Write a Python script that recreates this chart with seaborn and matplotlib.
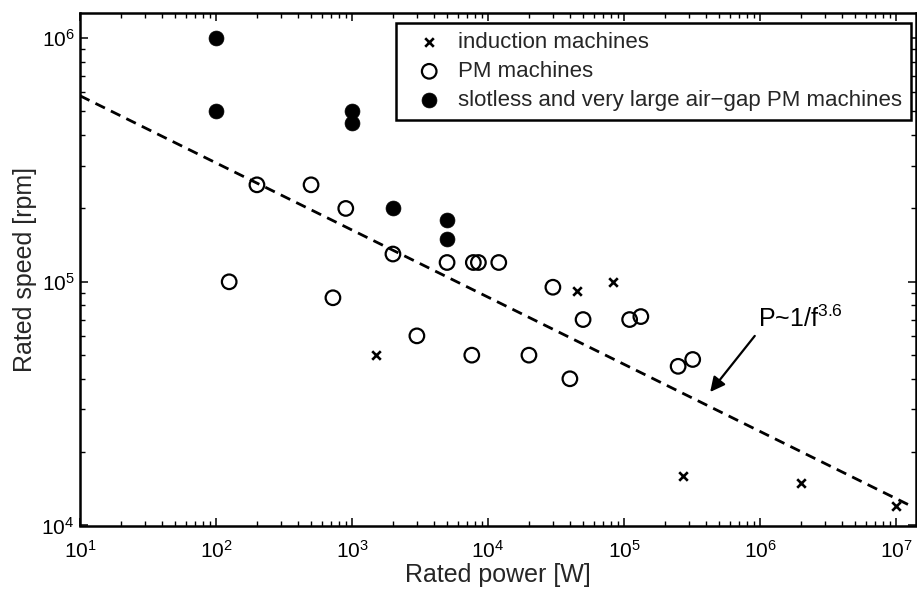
import numpy as np
import pandas as pd
import matplotlib
matplotlib.use("Agg")
import matplotlib.pyplot as plt
import seaborn as sns

# ---- data ----
induction_power = [1500, 45000, 83000, 2.7e5, 2e6, 1e7]
induction_speed = [5e4, 9.2e4, 1e5, 1.6e4, 1.5e4, 1.2e4]

pm_power = [125, 200, 500, 900, 724, 2000, 3000, 5000, 7600, 7800, 8500, 12000,
            20000, 30000, 40000, 50000, 1.1e5, 1.33e5, 2.5e5, 3.2e5]
pm_speed = [1e5, 2.5e5, 2.5e5, 2e5, 8.6e4, 1.3e5, 6e4, 1.2e5, 5e4, 1.2e5, 1.2e5, 1.2e5,
            5e4, 9.5e4, 4e4, 7e4, 7e4, 7.2e4, 4.5e4, 4.8e4]

slotless_power = [100, 100, 1000, 1000, 2000, 5000, 5000]
slotless_speed = [1e6, 5e5, 5e5, 4.5e5, 2e5, 1.8e5, 1.5e5]

trend_power = [10, 1.3e7]
trend_speed = [5.8e5, 1.2e4]

labels = ["induction machines", "PM machines", "slotless and very large air\u2212gap PM machines"]
annotation = "P~1/f$^{3.6}$"

# ---- style ----
sns.set_style("ticks")
plt.rcParams["font.family"] = ["Liberation Sans", "DejaVu Sans"]
plt.rcParams["mathtext.fontset"] = "custom"
plt.rcParams["mathtext.rm"] = "Liberation Sans"
plt.rcParams["mathtext.it"] = "Liberation Sans:italic"
plt.rcParams["mathtext.bf"] = "Liberation Sans:bold"

fig = plt.figure(figsize=(9.17, 5.89), dpi=100)
W, H = 917, 589
left, right, top, bottom = 80, 916, 13, 525.5
ax = fig.add_axes([left / W, 1 - bottom / H, (right - left) / W, (bottom - top) / H])

sns.lineplot(x=trend_power, y=trend_speed, ax=ax, color="black", linestyle=(0, (3.8, 2.4)),
             linewidth=2.0, legend=False)

sns.scatterplot(x=induction_power, y=induction_speed, ax=ax, marker="x", s=38,
                color="black", linewidth=1.9, label=labels[0])
sns.scatterplot(x=pm_power, y=pm_speed, ax=ax, marker="o", s=110,
                facecolors="none", edgecolor="black", linewidth=1.6, label=labels[1])
sns.scatterplot(x=slotless_power, y=slotless_speed, ax=ax, marker="o", s=115,
                color="black", edgecolor="black", linewidth=0.5, label=labels[2])

ax.set_xscale("log")
ax.set_yscale("log")
ax.set_xlim(10, 10 ** 7.147)
ax.set_ylim(1e4, 10 ** 6.103)
ax.set_xticks([1e1, 1e2, 1e3, 1e4, 1e5, 1e6, 1e7])
ax.set_yticks([1e4, 1e5, 1e6])

for s in ax.spines.values():
    s.set_visible(True)
    s.set_linewidth(1.8)
    s.set_color("black")

ax.tick_params(which="both", direction="in", top=True, right=True, colors="black")
ax.tick_params(which="major", length=6, width=1.1, labelsize=15)
ax.tick_params(axis="x", which="major", pad=10.5)
ax.tick_params(axis="y", which="major", pad=4)
ax.tick_params(which="minor", length=3.5, width=1.0)

ax.set_xlabel("Rated power [W]", fontsize=18, labelpad=1)
ax.set_ylabel("Rated speed [rpm]", fontsize=18, labelpad=3)

ax.annotate(annotation, xy=(4.3e5, 3.53e4), xytext=(9.7e5, 6.25e4),
            fontsize=18, ha="left", va="bottom", color="black",
            arrowprops=dict(arrowstyle="-|>", color="black", lw=1.6,
                            mutation_scale=22, shrinkA=1, shrinkB=0,
                            relpos=(0.03, 0.12)))

leg = ax.legend(loc="upper right", bbox_to_anchor=(0.994, 0.980), borderaxespad=0,
                fontsize=16, frameon=True, fancybox=False, edgecolor="black",
                handlelength=2.2, handletextpad=0.2, borderpad=0.4, labelspacing=0.36)
leg.get_frame().set_linewidth(1.8)
leg.get_frame().set_alpha(1)

fig.savefig("out.png", dpi=100)
